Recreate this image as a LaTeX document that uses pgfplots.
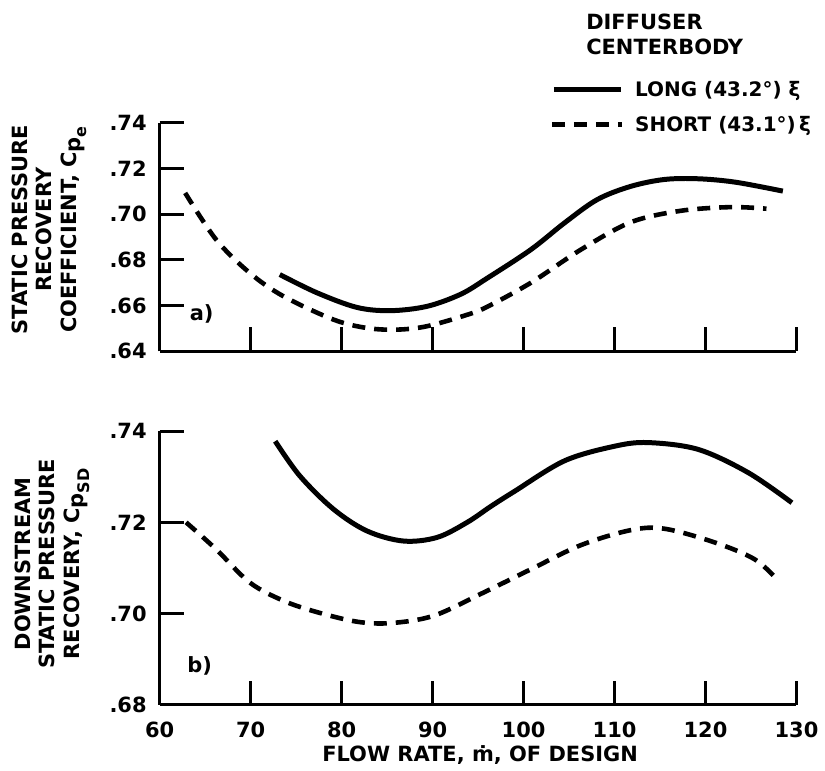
\documentclass[border=0pt]{standalone}
\usepackage{pgfplots}
\pgfplotsset{compat=1.18}
\usepackage{fontspec}
\setmainfont{DejaVu Sans}
\begin{document}
\begin{tikzpicture}
\pgfplotsset{
  myaxis/.style={
    scale only axis, width=319pt,
    xmin=60, xmax=130,
    axis x line*=bottom, axis y line*=left,
    axis line style={line width=1.5pt, black},
    every tick/.style={line width=1.5pt, black},
    major tick length=12pt, tick align=inside,
    tick label style={font=\bfseries\fontsize{10.5}{12}\selectfont},
    yticklabel style={xshift=-3pt},
    xticklabel style={yshift=-5pt},
    clip=false,
  },
  solidc/.style={black, line width=2.5pt, smooth, tension=0.55},
  dashc/.style={black, line width=2.3pt, smooth, tension=0.55, dash pattern=on 6.5pt off 4.5pt},
}
% top axis
\begin{axis}[myaxis, at={(80pt,-176pt)}, anchor=south west, height=114.5pt,
  ymin=0.64, ymax=0.74,
  ytick={0.64,0.66,0.68,0.70,0.72,0.74},
  yticklabels={.64,.66,.68,.70,.72,.74},
  xtick={70,80,90,100,110,120,130}, xticklabels={}]
\addplot[solidc] coordinates {
(73.2,0.6736) (77.3,0.6656) (81.7,0.6592) (85.4,0.6578) (89.4,0.6597)
(93.1,0.6650) (96.0,0.6720) (100.8,0.6845) (104.5,0.6962) (108.1,0.7064)
(111.8,0.7122) (115.5,0.7152) (119.2,0.7155) (123.3,0.7140) (128.5,0.7101)};
\addplot[dashc] coordinates {
(62.8,0.7093) (66.2,0.6889) (69.9,0.6743) (73.6,0.6641) (79.1,0.6539)
(82.8,0.6502) (86.1,0.6495) (89.4,0.6510) (93.8,0.6560) (96.0,0.6595)
(100.8,0.6700) (106.3,0.6845) (111.8,0.6965) (117.3,0.7015) (122.8,0.7031)
(126.7,0.7024)};
\end{axis}
% bottom axis
\begin{axis}[myaxis, at={(80pt,-353pt)}, anchor=south west, height=137pt,
  ymin=0.68, ymax=0.74,
  ytick={0.68,0.70,0.72,0.74},
  yticklabels={.68,.70,.72,.74},
  xtick={60,70,80,90,100,110,120,130},
  xticklabels={60,70,80,90,100,110,120,130}]
\addplot[solidc] coordinates {
(72.7,0.7378) (75.4,0.7302) (79.1,0.7229) (82.8,0.7181) (86.8,0.7159)
(90.5,0.7167) (93.8,0.7200) (96.4,0.7235) (99.0,0.7268) (104.5,0.7335)
(110.0,0.7367) (113.7,0.7375) (119.2,0.7360) (124.7,0.7309) (129.5,0.7243)};
\addplot[dashc] coordinates {
(62.9,0.7200) (66.2,0.7141) (69.9,0.7068) (73.6,0.7028) (77.3,0.7003)
(81.7,0.6982) (85.4,0.6979) (90.1,0.6995) (95.5,0.7045) (100.8,0.7097)
(106.3,0.7150) (111.8,0.7183) (115.5,0.7186) (121.0,0.7156) (125.4,0.7119)
(128.0,0.7072)};
\end{axis}
\begin{scope}[x=0.5pt, y=-0.5pt, font=\bfseries\fontsize{10.5}{12.5}\selectfont]
\path[use as bounding box] (0,0) rectangle (825,772);
% legend
\node[anchor=base west, inner sep=0] at (587,30) {DIFFUSER};
\node[anchor=base west, inner sep=0] at (587,55) {CENTERBODY};
\draw[line width=2.5pt] (555,90) -- (622,90);
\node[anchor=base west, inner sep=0, font=\bfseries\fontsize{10}{12}\selectfont] at (636,97) {LONG (43.2°) ξ};
\draw[line width=2.3pt, dash pattern=on 6.5pt off 4.5pt] (553,125) -- (623,125);
\node[anchor=base west, inner sep=0, font=\bfseries\fontsize{10}{12}\selectfont] at (636,132) {SHORT (43.1°)\,ξ};
% panel labels
\node at (202,315) {a)};
\node at (200,667) {b)};
% y labels
\node[rotate=90, align=center] at (49,230) {STATIC PRESSURE\\RECOVERY\\COEFFICIENT, C\raisebox{-0.35ex}{p\raisebox{-0.45ex}{\fontsize{8}{9}\selectfont e}}};
\node[rotate=90, align=center] at (52,565) {DOWNSTREAM\\STATIC PRESSURE\\RECOVERY, C\raisebox{-0.35ex}{p\raisebox{-0.45ex}{\fontsize{8}{9}\selectfont SD}}};
% x label
\node[anchor=base] at (481,763) {FLOW RATE, ṁ, OF DESIGN};
\end{scope}
\end{tikzpicture}
\end{document}
